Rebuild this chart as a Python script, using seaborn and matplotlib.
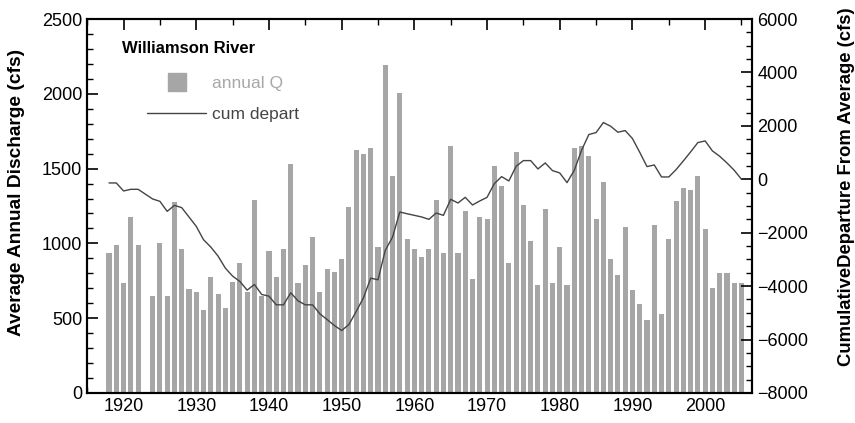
import matplotlib
matplotlib.use("Agg")
import matplotlib.pyplot as plt
import matplotlib.lines as mlines
from matplotlib.ticker import MultipleLocator
import seaborn as sns
import pandas as pd

# data
years = [1918, 1919, 1920, 1921, 1922, 1924, 1925, 1926, 1927, 1928, 1929,
         1930, 1931, 1932, 1933, 1934, 1935, 1936, 1937, 1938, 1939,
         1940, 1941, 1942, 1943, 1944, 1945, 1946, 1947, 1948, 1949,
         1950, 1951, 1952, 1953, 1954, 1955, 1956, 1957, 1958, 1959,
         1960, 1961, 1962, 1963, 1964, 1965, 1966, 1967, 1968, 1969,
         1970, 1971, 1972, 1973, 1974, 1975, 1976, 1977, 1978, 1979,
         1980, 1981, 1982, 1983, 1984, 1985, 1986, 1987, 1988, 1989,
         1990, 1991, 1992, 1993, 1994, 1995, 1996, 1997, 1998, 1999,
         2000, 2001, 2002, 2003, 2004, 2005]
annual_q = [933, 989, 732, 1178, 989, 650, 1000, 650, 1274, 962, 692,
            676, 553, 772, 663, 567, 743, 866, 676, 1288, 650,
            949, 772, 962, 1531, 732, 853, 1042, 676, 826, 812,
            893, 1245, 1625, 1598, 1638, 975, 2194, 1449, 2004, 1029,
            962, 906, 962, 1288, 935, 1652, 935, 1219, 759, 1178,
            1165, 1518, 1382, 866, 1612, 1259, 1016, 719, 1232, 732,
            975, 719, 1638, 1652, 1585, 1165, 1408, 893, 786, 1109,
            690, 596, 487, 1123, 527, 1029, 1286, 1368, 1355, 1449,
            1096, 705, 799, 799, 732, 732]
cum_depart = [-137, -137, -437, -375, -375, -737, -825, -1200, -975, -1062, -1412,
              -1762, -2262, -2537, -2875, -3325, -3625, -3825, -4150, -3937, -4312,
              -4375, -4700, -4700, -4250, -4550, -4700, -4700, -5037, -5250, -5475,
              -5662, -5437, -4950, -4437, -3700, -3762, -2662, -2162, -1225, -1290,
              -1350, -1410, -1500, -1262, -1350, -750, -887, -675, -962, -812,
              -675, -162, 100, -62, 487, 700, 700, 387, 612, 325,
              237, -125, 337, 1087, 1675, 1750, 2125, 1987, 1762, 1825,
              1525, 1012, 475, 537, 87, 87, 362, 687, 1025, 1375,
              1437, 1062, 862, 612, 337, 0]

df = pd.DataFrame({'year': years, 'Q': annual_q, 'cum': cum_depart})

sns.set_theme(style='ticks', rc={
    'xtick.direction': 'in', 'ytick.direction': 'in',
    'xtick.color': 'black', 'ytick.color': 'black',
    'text.color': 'black', 'axes.labelcolor': 'black',
    'axes.edgecolor': 'black',
})
plt.rcParams['font.family'] = ['Liberation Sans', 'DejaVu Sans']

bar_col = '#a6a6a6'
line_col = '#444444'

fig = plt.figure(figsize=(8.55, 4.23), dpi=100)
ax = fig.add_axes([0.102, 0.071, 0.778, 0.884])

sns.barplot(data=df, x='year', y='Q', native_scale=True, width=0.7,
            color=bar_col, saturation=1, edgecolor='none', ax=ax)
ax.set_xlim(1915, 2006.5)
ax.set_ylim(0, 2500)

ax2 = ax.twinx()
sns.lineplot(data=df, x='year', y='cum', color=line_col, linewidth=1, ax=ax2)
ax2.set_ylim(-8000, 6000)
ax2.set_xlim(1915, 2006.5)

ax.set_xlabel('')
ax.set_ylabel('Average Annual Discharge (cfs)', fontsize=13.8, fontweight='bold')
ax2.set_ylabel('CumulativeDeparture From Average (cfs)', fontsize=13.3, fontweight='bold')
ax.yaxis.set_label_coords(-0.093, 0.537)
ax2.yaxis.set_label_coords(1.129, 0.551)

ax.xaxis.set_major_locator(MultipleLocator(10))
ax.xaxis.set_minor_locator(MultipleLocator(5))
ax.yaxis.set_major_locator(MultipleLocator(500))
ax.yaxis.set_minor_locator(MultipleLocator(100))
ax2.yaxis.set_major_locator(MultipleLocator(2000))
ax2.yaxis.set_minor_locator(MultipleLocator(500))

ax.tick_params(axis='x', which='both', direction='in', top=True, bottom=True, labelsize=13)
ax.tick_params(axis='y', which='both', direction='in', left=True, right=False, labelsize=13)
ax2.tick_params(axis='y', which='both', direction='in', right=True, labelsize=13)
for a in (ax, ax2):
    a.tick_params(which='major', length=8, width=1.2, color='black')
    a.tick_params(which='minor', length=4.5, width=1, color='black')
    for s in a.spines.values():
        s.set_color('black')
        s.set_linewidth(1.5)

ax.text(0.053, 0.92, 'Williamson River', transform=ax.transAxes, fontsize=12,
        fontweight='bold', ha='left', va='center')

h1 = mlines.Line2D([], [], marker='s', linestyle='none', color=bar_col, markersize=13)
h2 = mlines.Line2D([], [], color=line_col, linewidth=1)
leg = ax2.legend(handles=[h1, h2], labels=['annual Q', 'cum depart'], frameon=False,
                 loc='upper left', bbox_to_anchor=(0.067, 0.89), fontsize=12.5,
                 handlelength=3.4, handletextpad=0.3, labelspacing=0.9,
                 labelcolor=['#a8a8a8', line_col])

fig.savefig('out.png', dpi=100)
